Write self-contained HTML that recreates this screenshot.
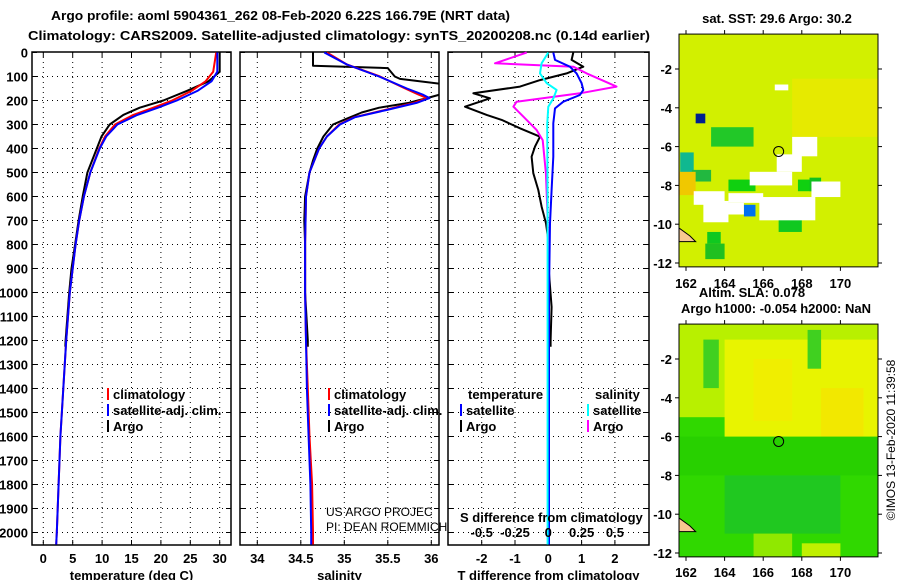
<!DOCTYPE html>
<html><head><meta charset="utf-8">
<style>
body{margin:0;background:#fff;}
svg{display:block;font-family:"Liberation Sans",sans-serif;}
.b{font-weight:bold;font-size:13px;}
</style></head>
<body>
<svg id="c" width="900" height="580" viewBox="0 0 900 580" xmlns="http://www.w3.org/2000/svg">
<text class="b" x="51" y="20" textLength="459" lengthAdjust="spacingAndGlyphs">Argo profile: aoml 5904361_262 08-Feb-2020 6.22S 166.79E (NRT data)</text>
<text class="b" x="28" y="40" textLength="622" lengthAdjust="spacingAndGlyphs">Climatology: CARS2009. Satellite-adjusted climatology: synTS_20200208.nc (0.14d earlier)</text>
<g id="plots"></g>
<g id="maps"></g>
</svg>
<script>
// ---- data ----
const depthTicks = [0,100,200,300,400,500,600,700,800,900,1000,1100,1200,1300,1400,1500,1600,1700,1800,1900,2000];
const tempTicks = [0,5,10,15,20,25,30];
const salTicks = [34,34.5,35,35.5,36];
const salTickLabels = ["34","34.5","35","35.5","36"];
const tdiffTicks = [-2,-1,0,1,2];
const sdiffTicks = [-0.5,-0.25,0,0.25,0.5];

const argoDepth = [0,80,120,160,200,230,260,300,350,400,500,600,700,800,900,1000,1100,1200,1226];
const argoTemp  = [30.0,30.0,28.1,24.4,20.4,16.4,13.6,11.3,9.9,9.1,7.5,6.7,6.0,5.4,4.8,4.4,4.1,3.8,3.75];
const climDepth = [0,80,120,160,200,230,260,300,350,400,500,600,700,800,900,1000,1200,1400,1600,1800,2000,2050];
const climTemp  = [29.4,28.9,27.6,25.2,21.9,18.7,15.3,12.2,10.5,9.5,8.0,6.9,6.1,5.5,5.0,4.5,3.9,3.4,2.9,2.6,2.3,2.2];
const satTemp   = [29.6,29.6,28.6,26.2,22.7,19.5,16.0,12.6,10.7,9.6,8.0,6.9,6.1,5.5,5.0,4.5,3.9,3.4,2.9,2.6,2.3,2.2];

const argoSalDepth = [0,55,65,100,110,130,150,175,190,210,230,250,280,300,350,400,450,500,600,700,800,1000,1200,1226];
const argoSal      = [34.64,34.64,35.5,35.58,35.64,36.1,36.2,36.1,35.95,35.74,35.40,35.2,35.0,34.87,34.76,34.69,34.64,34.60,34.55,34.54,34.55,34.55,34.58,34.58];
const climSalDepth = [0,50,100,150,175,190,210,240,270,300,350,400,500,600,800,1000,1200,1400,1600,1800,2000,2050];
const climSal      = [34.80,35.03,35.41,35.70,35.85,35.95,35.80,35.46,35.11,34.94,34.80,34.71,34.60,34.56,34.55,34.55,34.56,34.58,34.60,34.63,34.64,34.64];
const satSal       = [34.77,35.03,35.40,35.72,35.90,35.98,35.83,35.48,35.12,34.95,34.80,34.71,34.60,34.56,34.55,34.55,34.56,34.57,34.59,34.61,34.62,34.62];

const tdArgoDepth = [0,31,59,87,115,142,170,191,226,260,281,316,351,392,434,503,573,642,712,781,920,1060,1198,1226];
const tdArgo      = [0.75,0.7,1.05,0.55,-0.25,-0.85,-2.25,-1.75,-2.5,-1.85,-1.4,-0.85,-0.25,-0.4,-0.5,-0.45,-0.3,-0.2,-0.07,0,0.02,0.1,0.07,0.07];
const tdSatDepth  = [0,31,59,87,128,156,177,205,233,295,434,573,712,1000,1500,2050];
const tdSat       = [0.15,0.2,0.65,0.85,1.0,1.05,0.95,0.45,0.2,0.15,0.15,0.1,0.05,0.02,0.02,0.02];
const sdSatDepth  = [0,45,87,128,156,191,226,300,600,1000,2050];
const sdSat       = [0,-0.05,-0.062,-0.012,0.062,0.038,0,-0.008,-0.005,-0.005,-0.005];
const sdArgoDepth = [0,45,59,87,142,170,205,226,267,323,365,503,642,781,1226];
const sdArgo      = [-0.162,-0.4,0.188,0.288,0.512,0.238,-0.238,-0.262,-0.188,-0.088,-0.042,-0.018,-0.008,0,0];

// ---- helpers ----
const NS="http://www.w3.org/2000/svg";
function mk(parent,tag,attrs,text){const e=document.createElementNS(NS,tag);for(const k in attrs)e.setAttribute(k,attrs[k]);if(text!==undefined)e.textContent=text;parent.appendChild(e);return e;}
const yD = d => 52.5 + d*0.24;
const TOP=52, BOT=545;
const plots=document.getElementById('plots');

function panel(name,x0,x1,xs,ticks,labels,title){
  const g=mk(plots,'g',{});
  
  
  depthTicks.forEach(d=>{ if(d>0){const l=mk(g,'line',{x1:x0,x2:x1,y1:yD(d),y2:yD(d),stroke:'#000','stroke-width':1,'stroke-dasharray':'1,4'});
    
    }});
  ticks.forEach((t,i)=>{const x=xs(t);
    const l=mk(g,'line',{x1:x,x2:x,y1:TOP,y2:BOT,stroke:'#000','stroke-width':1,'stroke-dasharray':'1,4'});
    
    
    mk(g,'line',{x1:x,x2:x,y1:BOT,y2:BOT-5,stroke:'#000'});
    mk(g,'line',{x1:x,x2:x,y1:TOP,y2:TOP+5,stroke:'#000'});
    if(labels){const tx=mk(g,'text',{x:x,y:563,'text-anchor':'middle',class:'b'},labels[i]);
      
      }
  });
  depthTicks.forEach(d=>{mk(g,'line',{x1:x0,x2:x0+5,y1:yD(d),y2:yD(d),stroke:'#000'});mk(g,'line',{x1:x1,x2:x1-5,y1:yD(d),y2:yD(d),stroke:'#000'});});
  const r=mk(g,'rect',{x:x0,y:TOP,width:x1-x0,height:BOT-TOP,fill:'none',stroke:'#000','stroke-width':1.5});
  
  
  const tt=mk(g,'text',{x:(x0+x1)/2,y:580,'text-anchor':'middle',class:'b'},title);
  
  
  return g;
}
function line(g,xs,depths,vals,color,w,name){
  const pts=depths.map((d,i)=>xs(vals[i]).toFixed(1)+','+yD(d).toFixed(1)).join(' ');
  const p=mk(g,'polyline',{points:pts,fill:'none',stroke:color,'stroke-width':w,'stroke-linejoin':'round'});
  
  
  return p;
}
function legendRow(g,x,y,color,label,name){
  mk(g,'rect',{x:x,y:y-11,width:2,height:12,fill:color});
  const t=mk(g,'text',{x:x+6,y:y,class:'b'},label);
  
  
}

// depth labels
const ylab=mk(plots,'g',{});


depthTicks.forEach(d=>{const t=mk(ylab,'text',{x:28,y:yD(d)+5,'text-anchor':'end',class:'b'},String(d));
  
  });

// temperature panel
const xT=t=>43.3+t*5.88;
const gT=panel('temperature',32,231,xT,tempTicks,tempTicks.map(String),'temperature (deg C)');
line(gT,xT,argoDepth,argoTemp,'#000',2,'argo-temp-line');
line(gT,xT,climDepth,climTemp,'#f00',2,'climatology-temp-line');
line(gT,xT,climDepth,satTemp,'#00f',2,'satellite-temp-line');
legendRow(gT,107,399,'#f00','climatology','legend-climatology');
legendRow(gT,107,415,'#00f','satellite-adj. clim.','legend-satellite');
legendRow(gT,107,431,'#000','Argo','legend-argo');

// salinity panel
const xS=s=>257.3+(s-34)*87;
const gS=panel('salinity',240,439,xS,salTicks,salTickLabels,'salinity');
const cp=mk(gS,'clipPath',{id:'cs'});mk(cp,'rect',{x:240,y:TOP,width:199,height:BOT-TOP});
const gSc=mk(gS,'g',{'clip-path':'url(#cs)'});
line(gSc,xS,argoSalDepth,argoSal,'#000',2,'argo-salinity-line');
line(gSc,xS,climSalDepth,climSal,'#f00',2,'climatology-salinity-line');
line(gSc,xS,climSalDepth,satSal,'#00f',2,'satellite-salinity-line');
legendRow(gS,328,399,'#f00','climatology','legend-climatology');
legendRow(gS,328,415,'#00f','satellite-adj. clim.','legend-satellite');
legendRow(gS,328,431,'#000','Argo','legend-argo');
const us=mk(gS,'text',{x:326,y:516,'font-size':'12px',fill:'#000'},'US ARGO PROJEC');

const pi=mk(gS,'text',{x:326,y:531,'font-size':'12px',fill:'#000'},'PI: DEAN ROEMMICH');


// difference panel
const xD=v=>548.3+v*33.3;
const xSD=v=>548.3+v*133.2;
const gD=panel('difference',448,649,xD,tdiffTicks,tdiffTicks.map(String),'T difference from climatology');
line(gD,xD,tdArgoDepth,tdArgo,'#000',2,'argo-tdiff-line');
line(gD,xSD,sdArgoDepth,sdArgo,'#f0f',2,'argo-sdiff-line');
line(gD,xD,tdSatDepth,tdSat,'#00f',2,'satellite-tdiff-line');
line(gD,xSD,sdSatDepth,sdSat,'#0ff',2,'satellite-sdiff-line');
[['temperature',468,399],['salinity',595,399]].forEach(a=>{const t=mk(gD,'text',{x:a[1],y:a[2],class:'b'},a[0]);
  });
legendRow(gD,460,415,'#00f','satellite','legend-t-satellite');
legendRow(gD,460,431,'#000','Argo','legend-t-argo');
legendRow(gD,587,415,'#0ff','satellite','legend-s-satellite');
legendRow(gD,587,431,'#f0f','Argo','legend-s-argo');
const sdt=mk(gD,'text',{x:460,y:522,class:'b'},'S difference from climatology');

sdiffTicks.forEach(v=>{const t=mk(gD,'text',{x:xSD(v),y:537,'text-anchor':'middle',class:'b'},String(v));
  });

// ---- maps ----
const maps=document.getElementById('maps');
const mapLons=[162,164,166,168,170];
const mapLats=[-2,-4,-6,-8,-10,-12];
const argoLon=166.8, argoLat=-6.25;
const sstPatches=[
 [161.64,-0.2,171.95,-12.2,'#d2f000'],
 [167.5,-2.5,171.95,-5.5,'#e6ea00'],
 [163.3,-5.0,165.5,-6.0,'#22c828'],
 [161.7,-6.3,162.4,-7.5,'#10b890'],
 [162.3,-7.2,163.3,-7.8,'#22b840'],
 [162.5,-4.3,163.0,-4.8,'#002090'],
 [161.64,-7.3,162.5,-8.5,'#f0c800'],
 [165.0,-9.0,165.6,-9.6,'#0070f0'],
 [164.2,-7.7,165.6,-8.3,'#10d010'],
 [167.8,-7.7,168.5,-8.3,'#10d010'],
 [168.4,-7.6,169.0,-8.3,'#10c020'],
 [166.8,-9.5,168.0,-10.4,'#10c820'],
 [163.1,-10.4,163.8,-11.0,'#10c820'],
 [163.0,-11.0,164.0,-11.8,'#20c020'],
 [167.5,-5.5,168.8,-6.5,'#fff'],
 [166.7,-6.4,168.0,-7.3,'#fff'],
 [165.3,-7.3,167.5,-8.0,'#fff'],
 [162.4,-8.3,164.0,-9.0,'#fff'],
 [162.9,-8.8,164.2,-9.9,'#fff'],
 [164.2,-8.4,166.0,-8.9,'#fff'],
 [165.8,-8.6,168.7,-9.8,'#fff'],
 [168.5,-7.8,170.0,-8.6,'#fff'],
 [164.0,-8.9,165.0,-9.5,'#fff'],
 [166.6,-2.8,167.3,-3.1,'#fff']
];
const slaPatches=[
 [161.64,-0.2,171.95,-12.2,'#30d800'],
 [161.64,-0.2,171.95,-5.0,'#b8f000'],
 [164.0,-1.0,171.95,-6.5,'#e8f400'],
 [165.5,-2.0,167.5,-5.2,'#f0ee00'],
 [169.0,-3.5,171.2,-6.3,'#f2e800'],
 [162.9,-1.0,163.7,-3.5,'#40d020'],
 [168.3,-0.5,169.0,-2.5,'#40d020'],
 [161.64,-6.0,171.95,-8.0,'#28d000'],
 [164.0,-8.0,170.0,-11.0,'#20c820'],
 [165.5,-11.0,167.5,-12.2,'#90e800'],
 [168.0,-11.5,170.0,-12.2,'#c0f000']
];
function drawMap(name,latTopPx,title,titleY,patches,lonLabelY){
  const g=mk(maps,'g',{});
  
  
  const X=lon=>686+(lon-162)*19.3;
  const Y=lat=>latTopPx+(-2-lat)*19.4;
  const cid='clip'+name;
  const c=mk(g,'clipPath',{id:cid});mk(c,'rect',{x:679,y:Y(-0.2),width:199,height:Y(-12.2)-Y(-0.2)});
  const inner=mk(g,'g',{'clip-path':'url(#'+cid+')'});
  patches.forEach(p=>{const r=mk(inner,'rect',{x:X(p[0]),y:Y(p[1]),width:X(p[2])-X(p[0]),height:Y(p[3])-Y(p[1]),fill:p[4]});
    
    });
  const land=mk(inner,'path',{d:`M${X(161.64)},${Y(-10.2)} L${X(162.2)},${Y(-10.6)} L${X(162.5)},${Y(-10.9)} L${X(161.64)},${Y(-10.9)} Z`,fill:'#f8c890',stroke:'#000'});
  
  const ac=mk(g,'circle',{cx:X(argoLon),cy:Y(argoLat),r:5,fill:'none',stroke:'#000','stroke-width':1});
  
  const fr=mk(g,'rect',{x:679,y:Y(-0.2),width:199,height:Y(-12.2)-Y(-0.2),fill:'none',stroke:'#000'});
  
  mapLons.forEach(l=>{mk(g,'line',{x1:X(l),x2:X(l),y1:Y(-12.2),y2:Y(-12.2)+4,stroke:'#000'});mk(g,'line',{x1:X(l),x2:X(l),y1:Y(-0.2),y2:Y(-0.2)-4,stroke:'#000'});
    const t=mk(g,'text',{x:X(l),y:lonLabelY,'text-anchor':'middle',class:'b'},String(l));
    });
  mapLats.forEach(l=>{mk(g,'line',{x1:675,x2:679,y1:Y(l),y2:Y(l),stroke:'#000'});mk(g,'line',{x1:878,x2:882,y1:Y(l),y2:Y(l),stroke:'#000'});
    const t=mk(g,'text',{x:672,y:Y(l)+5,'text-anchor':'end',class:'b'},String(l));
    });
  title.forEach((s,i)=>{const t=mk(g,'text',{x:s[1],y:titleY[i],'text-anchor':'middle',class:'b'},s[0]);
    });
}
drawMap('sst-map',69,[['sat. SST: 29.6 Argo: 30.2',777]],[23],sstPatches,288);
drawMap('sla-map',359,[['Altim. SLA: 0.078',752],['Argo h1000: -0.054 h2000: NaN',776]],[297,313],slaPatches,577);
const st=mk(maps,'text',{transform:'translate(895,440) rotate(-90)','text-anchor':'middle','font-size':'12px'},'©IMOS 13-Feb-2020 11:39:58');

</script>
</body></html>
